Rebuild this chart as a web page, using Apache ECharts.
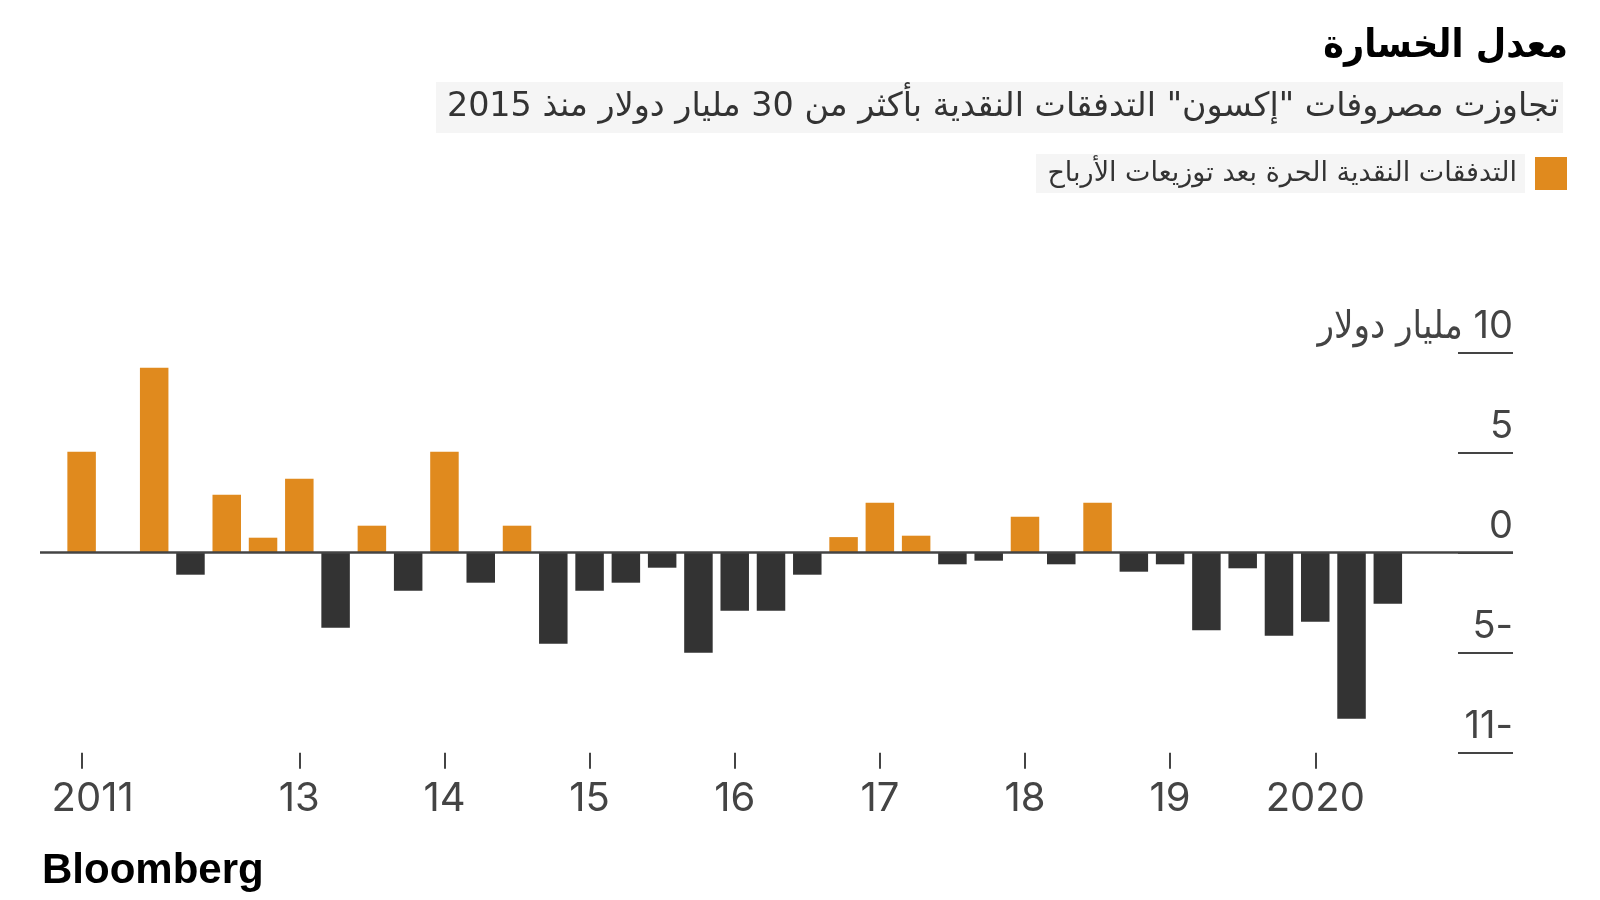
<!DOCTYPE html>
<html>
<head>
<meta charset="utf-8">
<script src="https://cdn.jsdelivr.net/npm/echarts@6/dist/echarts.min.js"></script>
<style>
html,body{margin:0;padding:0;background:#fff;}
#c{width:1600px;height:900px;}
</style>
</head>
<body>
<div id="c" dir="rtl"></div>
<script>
// ---- data ----
const titleText = 'معدل الخسارة';
const subtitleText = 'تجاوزت مصروفات "إكسون" التدفقات النقدية بأكثر من 30 مليار دولار منذ 2015';
const legendText = 'التدفقات النقدية الحرة بعد توزيعات الأرباح';
const sourceText = 'Bloomberg';

// free cash flow after dividends, billion USD, one bar per period (null = no bar)
const cashFlow = [
  5.05, null, 9.25, -1.1, 2.9, 0.75, 3.7, -3.75, 1.35, -1.9,
  5.05, -1.5, 1.35, -4.55, -1.9, -1.5, -0.75, -5.0, -2.9, -2.9,
  -1.1, 0.78, 2.5, 0.85, -0.58, -0.4, 1.8, -0.58, 2.5, -0.95,
  -0.58, -3.88, -0.78, -4.15, -3.45, -8.3, -2.55
];

// x-axis tick labels and the bar index each one sits under
const xTickLabels = ['2011', '13', '14', '15', '16', '17', '18', '19', '2020'];
const xTickIndex  = [0, 6, 10, 14, 18, 22, 26, 30, 34];

// y-axis ticks and their labels
const yTickValues = [-10, -5, 0, 5, 10];
const yTickLabels = ['-11', '-5', '0', '5', '10 مليار دولار'];

// ---- chart ----
const ORANGE = '#E08A1E';
const DARK = '#333333';
const AXIS = '#444444';

const chart = echarts.init(document.getElementById('c'), null, {renderer: 'canvas'});

const seriesData = cashFlow.map((v, i) => [i, v]);

chart.setOption({
  backgroundColor: '#ffffff',
  animation: false,
  grid: {left: 40, right: 87, top: 352.7, bottom: 147.3, outerBoundsMode: 'none'},
  xAxis: {
    type: 'value',
    min: -1.147,
    max: 39.45,
    splitLine: {show: false},
    axisLine: {show: false, onZero: false},
    axisTick: {
      show: true,
      customValues: xTickIndex,
      length: 16,
      lineStyle: {color: AXIS, width: 2}
    },
    axisLabel: {
      show: true,
      customValues: xTickIndex,
      margin: 26,
      color: AXIS,
      fontFamily: 'Inter, "Liberation Sans", sans-serif',
      fontSize: 40,
      rich: {
        first: {
          fontFamily: 'Inter, "Liberation Sans", sans-serif',
          fontSize: 40, color: AXIS, padding: [0, 0, 0, 22]
        }
      },
      formatter: function (val) {
        const k = xTickIndex.indexOf(Math.round(val));
        if (k < 0) return '';
        return k === 0 ? '{first|' + xTickLabels[k] + '}' : xTickLabels[k];
      }
    }
  },
  yAxis: {
    type: 'value',
    position: 'right',
    min: -10,
    max: 10,
    interval: 5,
    splitLine: {show: false},
    axisLine: {show: false, onZero: false},
    axisTick: {
      show: true,
      inside: true,
      length: 55,
      lineStyle: {color: AXIS, width: 2}
    },
    axisLabel: {
      show: true,
      inside: true,
      margin: 0,
      color: AXIS,
      fontFamily: 'Inter, "DejaVu Sans Condensed", sans-serif',
      fontSize: 38,
      verticalAlign: 'bottom',
      lineHeight: 40,
      padding: [0, 0, 6, 0],
      formatter: function (val) {
        const k = yTickValues.indexOf(val);
        return k >= 0 ? yTickLabels[k] : '';
      }
    }
  },
  series: [{
    type: 'bar',
    name: legendText,
    data: seriesData,
    barWidth: 28.5,
    itemStyle: {
      color: function (p) { return p.value[1] >= 0 ? ORANGE : DARK; }
    },
    markLine: {
      silent: true,
      symbol: ['none', 'none'],
      label: {show: false},
      lineStyle: {color: AXIS, width: 2.5, type: 'solid'},
      data: [{yAxis: 0}]
    }
  }],
  graphic: [
    {
      type: 'text', x: 1568, y: 47,
      style: {
        text: titleText, fill: '#000',
        align: 'right', verticalAlign: 'middle',
        font: 'bold 39px "DejaVu Sans Condensed", "DejaVu Sans", sans-serif'
      }
    },
    {
      type: 'rect', shape: {x: 436, y: 82, width: 1127, height: 51},
      style: {fill: '#F5F5F5'}
    },
    {
      type: 'text', x: 1559, y: 107,
      style: {
        text: subtitleText, fill: '#333',
        align: 'right', verticalAlign: 'middle',
        font: '33.4px "DejaVu Sans", "Liberation Sans", sans-serif'
      }
    },
    {
      type: 'rect', shape: {x: 1036, y: 154, width: 489, height: 39},
      style: {fill: '#F5F5F5'}
    },
    {
      type: 'text', x: 1517, y: 174,
      style: {
        text: legendText, fill: '#333',
        align: 'right', verticalAlign: 'middle',
        font: '27px "DejaVu Sans", sans-serif'
      }
    },
    {
      type: 'rect', shape: {x: 1535, y: 157, width: 32, height: 33},
      style: {fill: ORANGE}
    },
    {
      type: 'text', x: 42, y: 871,
      style: {
        text: sourceText, fill: '#000',
        align: 'left', verticalAlign: 'middle',
        font: 'bold 42px "Liberation Sans", Arial, sans-serif'
      }
    }
  ]
});
</script>
</body>
</html>
